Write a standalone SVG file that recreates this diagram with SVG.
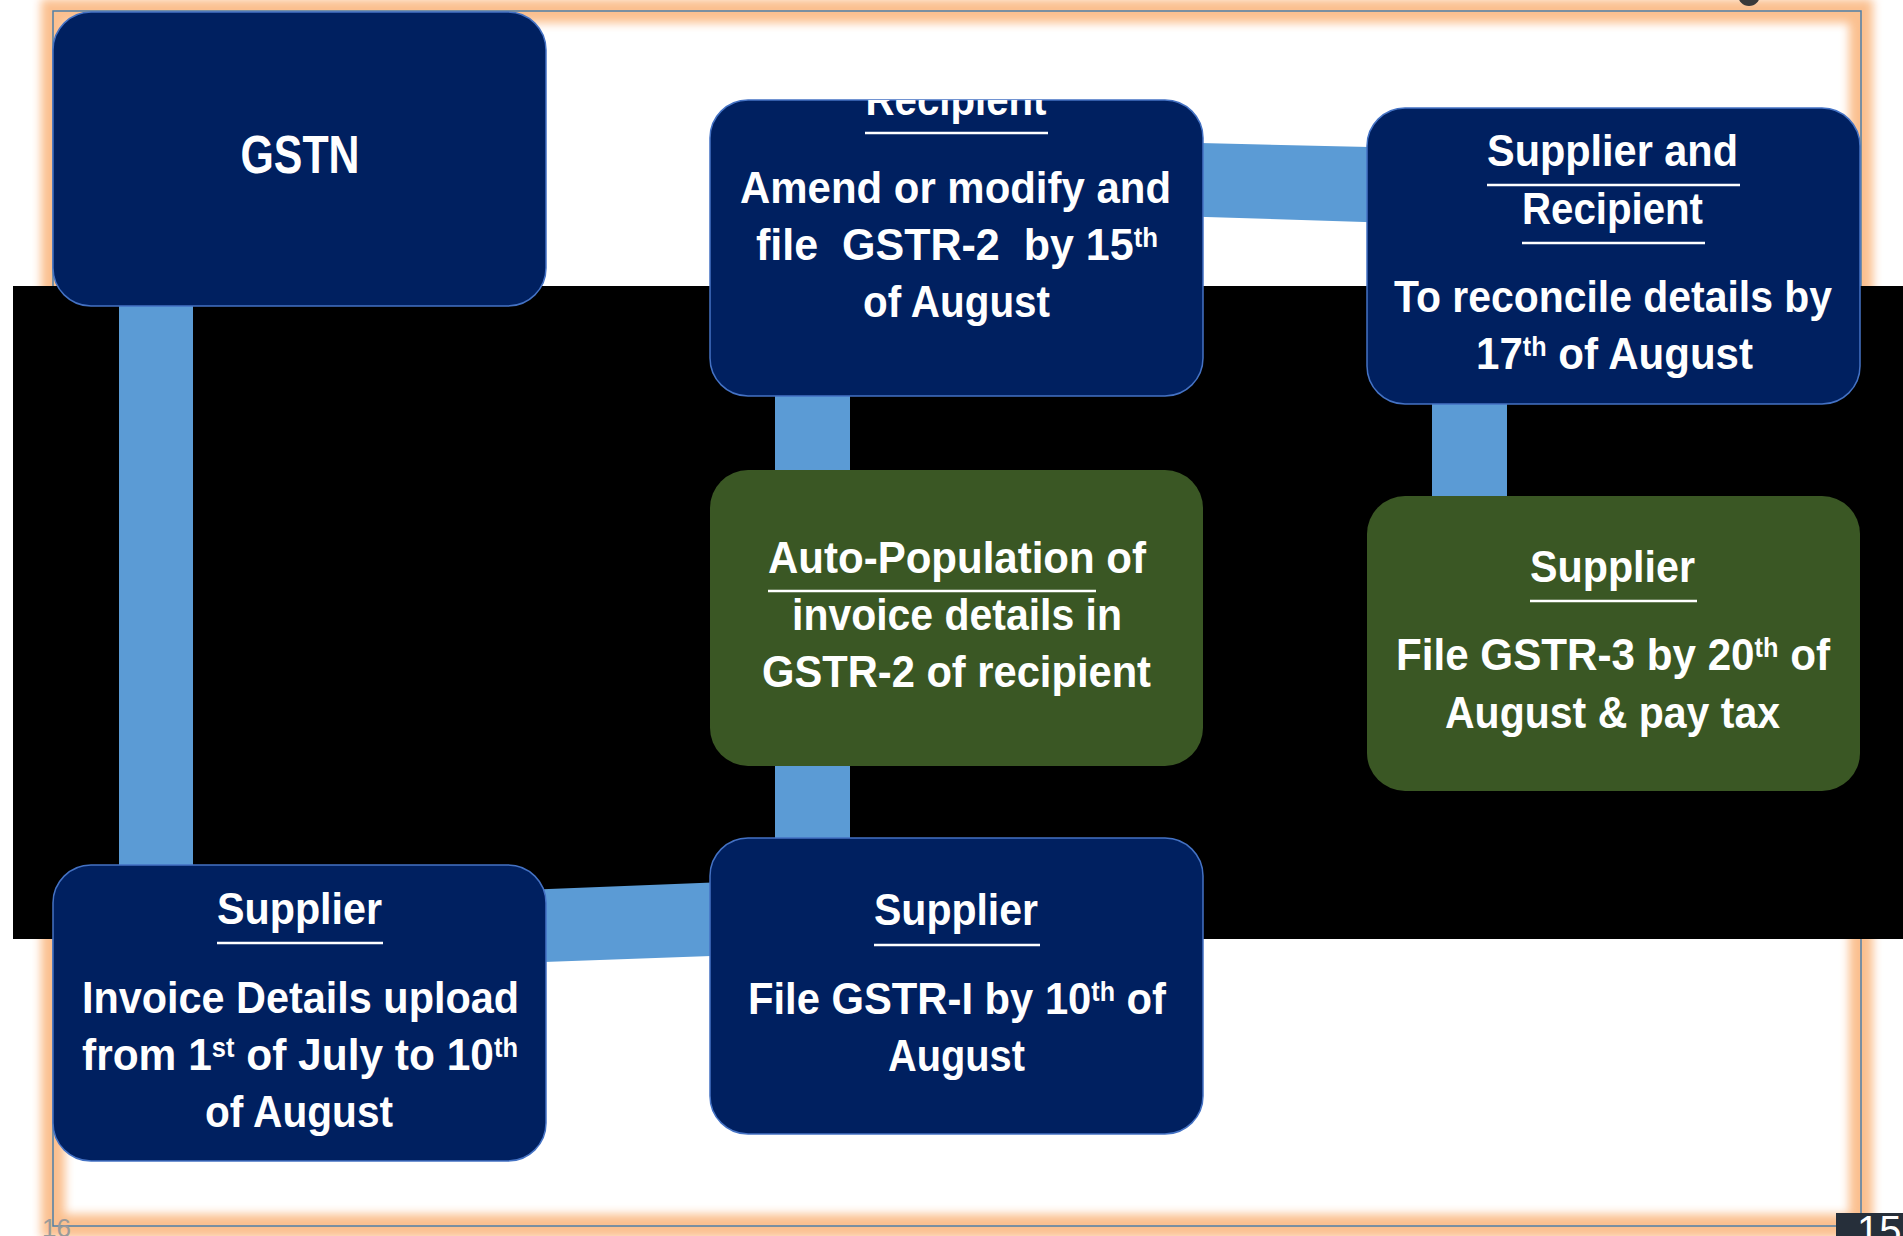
<svg xmlns="http://www.w3.org/2000/svg" width="1903" height="1236" viewBox="0 0 1903 1236">
<style>
.blue{fill:#002060;stroke:#4472C4;stroke-width:1.5}
.green{fill:#3A5724}
.t{font-family:"Liberation Sans",Arial,sans-serif;font-weight:bold;font-size:45px;fill:#fff;text-anchor:middle}
.big{font-size:53px}
.sup{font-size:27px}
.ul{stroke:#fff;stroke-width:2.5}
</style>
<defs>
<filter id="glow" x="-5%" y="-5%" width="110%" height="110%"><feGaussianBlur stdDeviation="5"/></filter>
<clipPath id="clipB2"><rect x="710" y="100" width="493" height="296" rx="38"/></clipPath>
</defs>
<rect x="0" y="0" width="1903" height="1236" fill="#fff"/>
<g id="frame">
<rect x="53" y="11" width="1808" height="1215" fill="none" stroke="#FBC08F" stroke-width="24" filter="url(#glow)"/>
<rect x="53" y="11" width="1808" height="1215" fill="none" stroke="#4F7FA8" stroke-width="1.5"/>
<circle cx="1749" cy="-5" r="11" fill="#3a3a3a"/>
</g>
<rect id="band" x="13" y="286" width="1890" height="653" fill="#000"/>
<g id="connectors" fill="#5B9BD5">
<rect x="119" y="290" width="74" height="590"/>
<polygon points="530,889.7 725,881.9 725,955.4 530,962.6"/>
<rect x="775" y="380" width="75" height="100"/>
<rect x="775" y="750" width="75" height="100"/>
<polygon points="1190,142.7 1380,147.3 1380,222.4 1190,216.6"/>
<rect x="1432" y="390" width="75" height="115"/>
</g>
<g id="node-gstn">
<rect class="blue" x="53" y="12" width="493" height="294" rx="38"/>
<text class="t big" x="300" y="173" textLength="119" lengthAdjust="spacingAndGlyphs">GSTN</text>
</g>
<g id="node-recipient">
<rect class="blue" x="710" y="100" width="493" height="296" rx="38"/>
<g clip-path="url(#clipB2)">
<text class="t" x="956" y="115" textLength="181" lengthAdjust="spacingAndGlyphs">Recipient</text>
</g>
<line class="ul" x1="865" y1="133" x2="1048" y2="133"/>
<text class="t" x="955.5" y="203" textLength="431" lengthAdjust="spacingAndGlyphs">Amend or modify and</text>
<text class="t" x="957" y="260" textLength="402" lengthAdjust="spacingAndGlyphs" xml:space="preserve">file  GSTR-2  by 15<tspan class="sup" dy="-13">th</tspan></text>
<text class="t" x="956.5" y="317" textLength="187" lengthAdjust="spacingAndGlyphs">of August</text>
</g>
<g id="node-reconcile">
<rect class="blue" x="1367" y="108" width="493" height="296" rx="38"/>
<text class="t" x="1612.5" y="166" textLength="251" lengthAdjust="spacingAndGlyphs">Supplier and</text>
<line class="ul" x1="1487" y1="185" x2="1740" y2="185"/>
<text class="t" x="1612.5" y="224" textLength="181" lengthAdjust="spacingAndGlyphs">Recipient</text>
<line class="ul" x1="1522" y1="243" x2="1705" y2="243"/>
<text class="t" x="1613" y="312" textLength="438" lengthAdjust="spacingAndGlyphs">To reconcile details by</text>
<text class="t" x="1614.5" y="369" textLength="277" lengthAdjust="spacingAndGlyphs">17<tspan class="sup" dy="-13">th</tspan><tspan dy="13"> of August</tspan></text>
</g>
<g id="node-autopop">
<rect class="green" x="710" y="470" width="493" height="296" rx="38"/>
<text class="t" x="957" y="573" textLength="378" lengthAdjust="spacingAndGlyphs">Auto-Population of</text>
<line class="ul" x1="768" y1="591" x2="1096" y2="591"/>
<text class="t" x="957" y="630" textLength="330" lengthAdjust="spacingAndGlyphs">invoice details in</text>
<text class="t" x="956.5" y="687" textLength="389" lengthAdjust="spacingAndGlyphs">GSTR-2 of recipient</text>
</g>
<g id="node-gstr3">
<rect class="green" x="1367" y="496" width="493" height="295" rx="38"/>
<text class="t" x="1612.5" y="582" textLength="165" lengthAdjust="spacingAndGlyphs">Supplier</text>
<line class="ul" x1="1530" y1="601" x2="1697" y2="601"/>
<text class="t" x="1613" y="670" textLength="434" lengthAdjust="spacingAndGlyphs">File GSTR-3 by 20<tspan class="sup" dy="-13">th</tspan><tspan dy="13"> of</tspan></text>
<text class="t" x="1612.5" y="728" textLength="335" lengthAdjust="spacingAndGlyphs">August &amp; pay tax</text>
</g>
<g id="node-upload">
<rect class="blue" x="53" y="865" width="493" height="296" rx="38"/>
<text class="t" x="299.5" y="924" textLength="165" lengthAdjust="spacingAndGlyphs">Supplier</text>
<line class="ul" x1="217" y1="943" x2="383" y2="943"/>
<text class="t" x="300.5" y="1013" textLength="437" lengthAdjust="spacingAndGlyphs">Invoice Details upload</text>
<text class="t" x="300" y="1070" textLength="436" lengthAdjust="spacingAndGlyphs">from 1<tspan class="sup" dy="-13">st</tspan><tspan dy="13"> of July to 10</tspan><tspan class="sup" dy="-13">th</tspan></text>
<text class="t" x="299" y="1127" textLength="188" lengthAdjust="spacingAndGlyphs">of August</text>
</g>
<g id="node-gstr1">
<rect class="blue" x="710" y="838" width="493" height="296" rx="38"/>
<text class="t" x="956" y="925" textLength="164" lengthAdjust="spacingAndGlyphs">Supplier</text>
<line class="ul" x1="874" y1="945" x2="1040" y2="945"/>
<text class="t" x="957" y="1014" textLength="418" lengthAdjust="spacingAndGlyphs">File GSTR-I by 10<tspan class="sup" dy="-13">th</tspan><tspan dy="13"> of</tspan></text>
<text class="t" x="956.5" y="1071" textLength="137" lengthAdjust="spacingAndGlyphs">August</text>
</g>
<g id="page-numbers">
<text x="42" y="1237" font-family="Liberation Sans,Arial,sans-serif" font-size="26" fill="#9a9a9a">16</text>
<rect x="1836" y="1213" width="67" height="23" fill="#262F3A"/>
<text x="1857" y="1244" font-family="Liberation Sans,Arial,sans-serif" font-size="40" fill="#fff">15</text>
</g>
</svg>
